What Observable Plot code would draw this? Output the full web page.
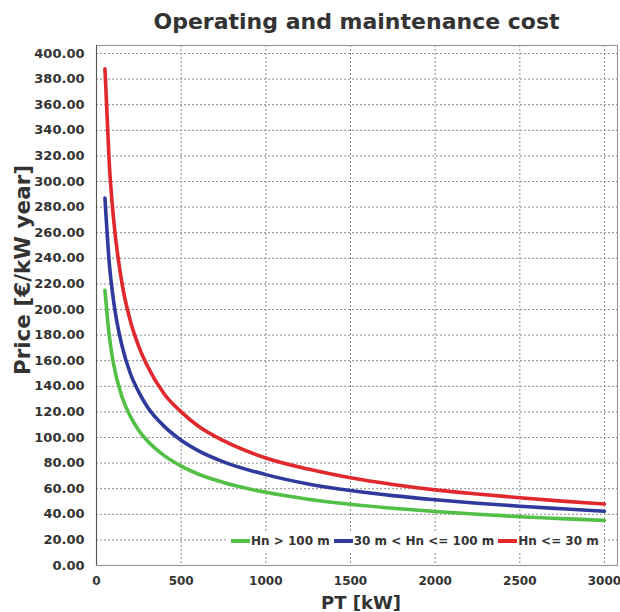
<!DOCTYPE html>
<html>
<head>
<meta charset="utf-8">
<script src="https://cdn.jsdelivr.net/npm/d3@7"></script>
<script src="https://cdn.jsdelivr.net/npm/@observablehq/plot@0.6"></script>
<style>
  html, body { margin: 0; padding: 0; background: #fff; }
  #wrap { position: relative; width: 620px; height: 612px; font-family: "DejaVu Sans", sans-serif; color: #333; overflow: hidden; }
  #title { position: absolute; left: 96px; width: 521px; top: 8px; text-align: center; font-weight: bold; font-size: 22px; line-height: 28px; color: #333; }
  #chart { position: absolute; left: 0; top: 40px; }
  #ylabel { position: absolute; left: 22px; top: 270px; transform: translate(-50%, -50%) rotate(-90deg); white-space: nowrap; font-weight: bold; font-size: 21.5px; color: #333; }
  #xlabel { position: absolute; left: 361px; top: 592px; transform: translateX(-50%); white-space: nowrap; font-weight: bold; font-size: 18px; color: #333; }
  #legend { position: absolute; left: 227px; top: 531px; height: 20px; padding-right: 4px; background: #fff; display: flex; align-items: center; font-weight: bold; font-size: 12px; color: #333; white-space: nowrap; }
  #legend .sw { display: inline-block; width: 19px; height: 4px; margin: 0 1px 0 4px; }
</style>
</head>
<body>
<div id="wrap">
  <div id="title">Operating and maintenance cost</div>
  <div id="chart"></div>
  <div id="ylabel">Price [€/kW year]</div>
  <div id="xlabel">PT [kW]</div>
  <div id="legend"></div>
</div>
<script>
// Power PT [kW]
const pt = [50, 75, 100, 150, 200, 250, 300, 400, 500, 600, 750, 1000, 1250, 1500, 1750, 2000, 2250, 2500, 2750, 3000];
// Price [€/kW year] per head class
const hnHigh = [215, 180, 158, 132, 116.5, 105.5, 97.4, 85.8, 77.7, 71.5, 64.9, 57.2, 51.8, 47.8, 44.7, 42.2, 40.0, 38.1, 36.6, 35.2];
const hnMid  = [287, 237, 207.5, 172, 150, 135.5, 124, 108.7, 97.9, 89.8, 81, 71, 63.7, 58.6, 54.6, 51.4, 48.6, 46.3, 44.3, 42.4];
const hnLow  = [388, 315, 272, 221, 191, 171, 156, 134, 120, 109, 97.5, 84, 75.3, 68.5, 63.3, 59.1, 55.8, 52.9, 50.3, 48.1];

const seriesNames = ["Hn > 100 m", "30 m < Hn <= 100 m", "Hn <= 30 m"];
const seriesColors = ["#52bf45", "#2f3a9c", "#e1282d"];
const seriesValues = [hnHigh, hnMid, hnLow];

const xTicks = [0, 500, 1000, 1500, 2000, 2500, 3000];
const yTicks = d3.range(0, 401, 20);

const rows = [];
seriesNames.forEach((name, i) => {
  pt.forEach((p, j) => rows.push({ series: name, pt: p, price: seriesValues[i][j] }));
});

const plot = Plot.plot({
  width: 620,
  height: 572,
  marginLeft: 96,
  marginRight: 3,
  marginTop: 5,
  marginBottom: 47,
  style: { fontFamily: "DejaVu Sans, sans-serif", fontSize: "13px", fontWeight: "bold", color: "#333", background: "#fff" },
  x: { domain: [0, 3077], ticks: xTicks, tickFormat: d => String(d), label: null },
  y: { domain: [0, 406.25], ticks: yTicks, tickFormat: d => d.toFixed(2), label: null },
  color: { domain: seriesNames, range: seriesColors },
  marks: [
    Plot.gridX(xTicks, { stroke: "#8c8c8c", strokeOpacity: 1, strokeDasharray: "2,2", strokeWidth: 1 }),
    Plot.gridY(yTicks, { stroke: "#8c8c8c", strokeOpacity: 1, strokeDasharray: "2,2", strokeWidth: 1 }),
    Plot.frame({ stroke: "#999", strokeWidth: 1.2 }),
    Plot.ruleX([0], { stroke: "#555", strokeWidth: 1 }),
    Plot.axisX(xTicks, { tickSize: 0, tickPadding: 11, fill: "#333", fontSize: 12, fontWeight: "bold", tickFormat: d => String(d), label: null }),
    Plot.axisY(yTicks, { tickSize: 0, tickPadding: 12, fill: "#333", fontSize: 13, fontWeight: "bold", tickFormat: d => d.toFixed(2), label: null }),
    Plot.line(rows, { x: "pt", y: "price", z: "series", stroke: "series", strokeWidth: 3.6, curve: "monotone-x" })
  ]
});
document.getElementById("chart").appendChild(plot);

const legend = document.getElementById("legend");
seriesNames.forEach((name, i) => {
  const sw = document.createElement("span");
  sw.className = "sw";
  sw.style.background = seriesColors[i];
  legend.appendChild(sw);
  const t = document.createElement("span");
  t.textContent = name;
  legend.appendChild(t);
});
</script>
</body>
</html>
